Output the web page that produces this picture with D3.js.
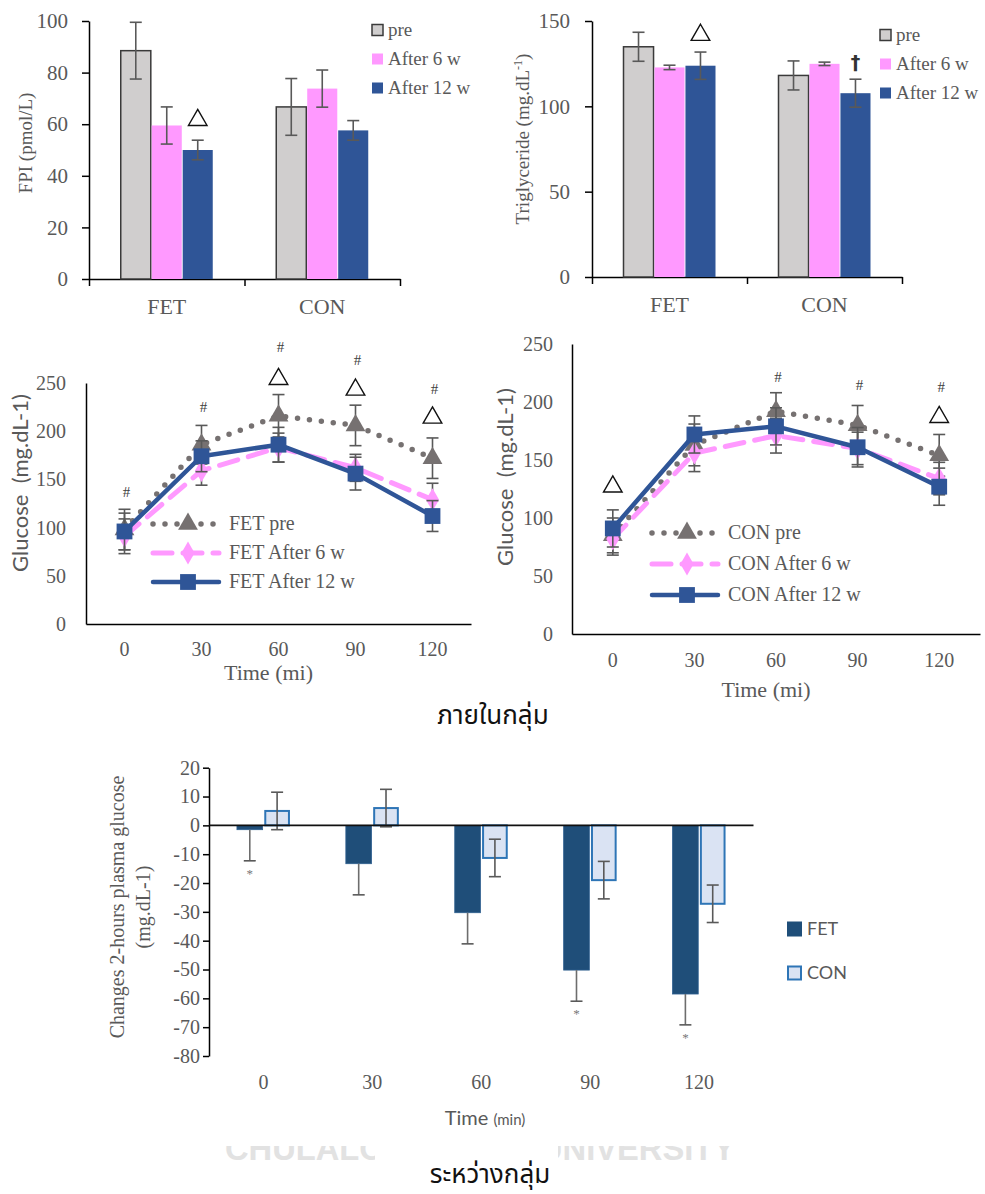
<!DOCTYPE html>
<html lang="th">
<head>
<meta charset="UTF-8">
<title>FPI, Triglyceride, OGTT</title>
<script src="https://d3js.org/d3.v7.min.js"></script>
<style>
  body { margin: 0; background: #fff; }
  svg text { fill: #595959; }
  .serif { font-family: "Liberation Serif", "DejaVu Serif", serif; }
  .sans { font-family: Lato, "Liberation Sans", sans-serif; }
  .thai { font-family: "Noto Sans Thai", "Noto Sans Thai UI", Loma, Garuda, "Tlwg Typist", sans-serif; fill: #111 !important; }
</style>
</head>
<body>
<svg id="fig" width="985" height="1194"></svg>
<script>
// ---- data ----
const groups = ["FET", "CON"];
const periods = ["pre", "After 6 w", "After 12 w"];
const periodColors = ["#d0cece", "#ff99ff", "#2f5597"];

// FPI (pmol/L), rows FET / CON
const fpiTicks = [0, 20, 40, 60, 80, 100];
const fpiMean = [[88.5, 59.5, 50.0], [66.7, 73.8, 57.6]];
const fpiErr = [[11, 7.2, 3.8], [11, 7.2, 3.8]];
// Triglyceride (mg/dL)
const tgTicks = [0, 50, 100, 150];
const tgMean = [[134.9, 122.8, 123.8], [118.1, 124.9, 107.7]];
const tgErr = [[8.5, 1.3, 8], [8.5, 1, 8.2]];

// OGTT glucose
const times = [0, 30, 60, 90, 120];
const glucoseTicks = [0, 50, 100, 150, 200, 250];
const fetPre = [98, 186, 216, 206, 172];
const fetPreErr = [21, 20, 22, 21, 21];
const fet6w = [91, 159, 183, 162, 129];
const fet6wErr = [18, 15, 15, 14, 17];
const fet12w = [96, 174, 186, 156, 112];
const fet12wErr = [19, 16, 18, 17, 16];
const conPre = [85, 163, 192, 180, 154];
const conPreErr = [15, 18, 16, 17, 18];
const con6w = [82, 156, 171, 160, 134];
const con6wErr = [14, 16, 15, 14, 14];
const con12w = [91, 172, 179, 161, 127];
const con12wErr = [16, 16, 16, 17, 16];
// significance marks [time, glucose level, symbol]
const fetMarks = [[0, 137, "#"], [30, 225, "#"], [60, 288, "#"], [60, 254, "tri"], [90, 274, "#"], [90, 243, "tri"], [120, 244, "#"], [120, 214, "tri"]];
const conMarks = [[0, 127, "tri"], [60, 222, "#"], [90, 215, "#"], [120, 213, "#"], [120, 187, "tri"]];

// change in 2-h plasma glucose
const deltaTicks = [20, 10, 0, -10, -20, -30, -40, -50, -60, -70, -80];
const deltaFET = [-1.5, -13.3, -30.3, -50.2, -58.5];
const deltaFETErr = [10.8, 10.8, 10.8, 10.8, 10.7];
const deltaCON = [5, 6, -11.3, -19, -27.2];
const deltaCONErr = [6.5, 6.5, 6.5, 6.5, 6.5];
const deltaStars = [0, 90, 120];

const svg = d3.select("#fig");

function styleAxis(ax, size) {
  ax.attr("font-family", null).attr("font-size", null);
  ax.selectAll("text").attr("class", "serif").attr("font-size", size);
  ax.selectAll("path, line").attr("stroke", "#000").attr("stroke-width", 1.5);
}

function errBar(g, x, yTop, yBot, cap, color) {
  g.append("line").attr("x1", x).attr("x2", x).attr("y1", yTop).attr("y2", yBot)
    .attr("stroke", color).attr("stroke-width", 1.6);
  [yTop, yBot].forEach(yy => {
    g.append("line").attr("x1", x - cap / 2).attr("x2", x + cap / 2).attr("y1", yy).attr("y2", yy)
      .attr("stroke", color).attr("stroke-width", 1.6);
  });
}

function hollowTriangle(g, x, y) {
  g.append("path").attr("d", d3.symbol(d3.symbolTriangle, 150)())
    .attr("transform", `translate(${x},${y})`)
    .attr("fill", "none").attr("stroke", "#111").attr("stroke-width", 1.4);
}

// ---- grouped bar charts (top row) ----
function barChart(cfg) {
  const g = svg.append("g");
  const x = d3.scaleBand().domain(groups).range([cfg.x0, cfg.x1]);
  const inner = d3.scaleBand().domain(periods).range([0, 92]).paddingInner(0.03);
  const off = (x.bandwidth() - 92) / 2;
  const y = d3.scaleLinear().domain([0, cfg.max]).range([cfg.y0, cfg.yTop]);

  g.append("g").attr("transform", `translate(${cfg.x0},0)`)
    .call(d3.axisLeft(y).tickValues(cfg.ticks).tickFormat(d => String(d)).tickSize(7).tickPadding(cfg.pad).tickSizeOuter(0))
    .call(ax => styleAxis(ax, 21));

  const xl = d3.scaleLinear().domain([0, 2]).range([cfg.x0, cfg.x1]);
  g.append("g").attr("transform", `translate(0,${cfg.y0})`)
    .call(d3.axisBottom(xl).tickValues([0, 1, 2]).tickFormat("").tickSize(7).tickSizeOuter(0))
    .call(ax => styleAxis(ax, 21));

  g.selectAll(".cat").data(groups).join("text")
    .attr("class", "serif").attr("x", d => x(d) + x.bandwidth() / 2).attr("y", cfg.y0 + 35)
    .attr("text-anchor", "middle").attr("font-size", 22).text(d => d);

  groups.forEach((grp, gi) => {
    periods.forEach((p, pi) => {
      const bx = x(grp) + off + inner(p);
      const v = cfg.mean[gi][pi];
      g.append("rect").attr("x", bx).attr("y", y(v)).attr("width", inner.bandwidth())
        .attr("height", y(0) - y(v)).attr("fill", periodColors[pi])
        .attr("stroke", pi === 0 ? "#3a3a3a" : "none").attr("stroke-width", 1.5);
    });
    periods.forEach((p, pi) => {
      const cx = x(grp) + off + inner(p) + inner.bandwidth() / 2;
      const v = cfg.mean[gi][pi], e = cfg.err[gi][pi];
      errBar(g, cx, y(v + e), y(v - e), 12, "#595959");
    });
  });

  cfg.marks.forEach(m => {
    const cx = x(m[0]) + off + inner(m[1]) + inner.bandwidth() / 2;
    if (m[3] === "tri") hollowTriangle(g, cx, y(m[2]));
    else g.append("text").attr("x", cx).attr("y", y(m[2])).attr("dy", "0.35em")
      .attr("text-anchor", "middle").attr("font-family", "DejaVu Sans").attr("font-weight", "bold")
      .attr("font-size", 19).style("fill", "#333").text(m[3]);
  });

  const t = g.append("text").attr("class", "serif").attr("font-size", 19)
    .attr("transform", `translate(${cfg.tx},${cfg.ty}) rotate(-90)`).attr("text-anchor", "middle")
    .attr("dy", "0.35em");
  t.append("tspan").text(cfg.title);
  if (cfg.sup) {
    t.append("tspan").attr("font-size", 12).attr("baseline-shift", "super").text(cfg.sup);
    t.append("tspan").text(")");
  }

  periods.forEach((p, i) => {
    const ly = cfg.ly + i * 29;
    g.append("rect").attr("x", cfg.lx).attr("y", ly - 5.5).attr("width", 11).attr("height", 11)
      .attr("fill", periodColors[i]).attr("stroke", i === 0 ? "#3a3a3a" : "none").attr("stroke-width", 1.5);
    g.append("text").attr("class", "serif").attr("x", cfg.lx + 16).attr("y", ly).attr("dy", "0.32em")
      .attr("font-size", 19).text(p);
  });
}

barChart({ x0: 89, x1: 400, y0: 279, yTop: 21, max: 100, ticks: fpiTicks, pad: 14,
  mean: fpiMean, err: fpiErr, marks: [["FET", "After 12 w", 61.6, "tri"]],
  title: "FPI (pmol/L)", tx: 25, ty: 143, lx: 372, ly: 30 });
barChart({ x0: 592, x1: 902, y0: 277, yTop: 21, max: 150, ticks: tgTicks, pad: 15,
  mean: tgMean, err: tgErr, marks: [["FET", "After 12 w", 141.8, "tri"], ["CON", "After 12 w", 125.5, "†"]],
  title: "Triglyceride (mg.dL", sup: "-1", tx: 522, ty: 139, lx: 880, ly: 35 });

// ---- OGTT line charts (middle row) ----
function lineChart(cfg) {
  const g = svg.append("g");
  const x = d3.scaleBand().domain(times).range([cfg.x0, cfg.x1]);
  const cx = t => x(t) + x.bandwidth() / 2;
  const y = d3.scaleLinear().domain([0, 250]).range([cfg.y0, cfg.yTop]);

  g.append("g").attr("transform", `translate(${cfg.x0},0)`)
    .call(d3.axisLeft(y).tickValues(glucoseTicks).tickFormat(d => String(d)).tickSize(0).tickPadding(cfg.pad))
    .call(ax => styleAxis(ax, 20));
  g.append("g").attr("transform", `translate(0,${cfg.y0})`)
    .call(d3.axisBottom(x).tickSize(0).tickPadding(cfg.xpad))
    .call(ax => styleAxis(ax, 20));

  const series = [
    { name: cfg.grp + " pre", v: cfg.data[0], e: cfg.errs[0], color: "#767171", w: 5.5, dash: "0,12", sym: d3.symbolTriangle, size: 170 },
    { name: cfg.grp + " After 6 w", v: cfg.data[1], e: cfg.errs[1], color: "#ff99ff", w: 5, dash: "19,11", sym: d3.symbolDiamond, size: 150 },
    { name: cfg.grp + " After 12 w", v: cfg.data[2], e: cfg.errs[2], color: "#2f5597", w: 4.5, dash: null, sym: d3.symbolSquare, size: 250 }
  ];
  const line = d3.line().x((d, i) => cx(times[i])).y(d => y(d));

  series.forEach(s => {
    g.append("path").datum(s.v).attr("d", line).attr("fill", "none")
      .attr("stroke", s.color).attr("stroke-width", s.w).attr("stroke-linecap", "round")
      .attr("stroke-linejoin", "round").attr("stroke-dasharray", s.dash);
    s.v.forEach((v, i) => errBar(g, cx(times[i]), y(v + s.e[i]), y(v - s.e[i]), 12, "#595959"));
    g.selectAll(null).data(s.v).join("path")
      .attr("d", d3.symbol(s.sym, s.size)())
      .attr("transform", (d, i) => `translate(${cx(times[i])},${y(d)})`)
      .attr("fill", s.color);
  });

  cfg.marks.forEach(m => {
    if (m[2] === "tri") hollowTriangle(g, cx(m[0]), y(m[1]));
    else g.append("text").attr("class", "serif").attr("x", cx(m[0]) + 2).attr("y", y(m[1]))
      .attr("dy", "0.35em").attr("text-anchor", "middle").attr("font-size", 15).style("fill", "#404040").text(m[2]);
  });

  series.forEach((s, i) => {
    const ly = cfg.ly + i * cfg.lstep;
    g.append("line").attr("x1", cfg.lx).attr("x2", cfg.lx + 66).attr("y1", ly).attr("y2", ly)
      .attr("stroke", s.color).attr("stroke-width", s.w).attr("stroke-linecap", "round")
      .attr("stroke-dasharray", s.dash);
    g.append("path").attr("d", d3.symbol(s.sym, s.size)())
      .attr("transform", `translate(${cfg.lx + 35},${ly})`).attr("fill", s.color);
    g.append("text").attr("class", "serif").attr("x", cfg.lx + 76).attr("y", ly).attr("dy", "0.32em")
      .attr("font-size", 20).text(s.name);
  });

  g.append("text").attr("class", "serif").attr("x", (cfg.x0 + cfg.x1) / 2 - 10).attr("y", cfg.ty)
    .attr("text-anchor", "middle").attr("font-size", 22).text("Time (mi)");
  g.append("text").attr("class", "sans").style("white-space", "pre")
    .attr("transform", `translate(${cfg.gx},${cfg.gy}) rotate(-90)`).attr("text-anchor", "middle")
    .attr("dy", "0.35em").attr("font-size", 22).text("Glucose  (mg.dL-1)");
}

lineChart({ grp: "FET", x0: 86, x1: 471, y0: 624, yTop: 383, pad: 20, xpad: 18,
  data: [fetPre, fet6w, fet12w], errs: [fetPreErr, fet6wErr, fet12wErr], marks: fetMarks,
  lx: 153, ly: 524, lstep: 29, ty: 680, gx: 20, gy: 483 });
lineChart({ grp: "CON", x0: 572, x1: 980, y0: 634, yTop: 344, pad: 19, xpad: 19,
  data: [conPre, con6w, con12w], errs: [conPreErr, con6wErr, con12wErr], marks: conMarks,
  lx: 652, ly: 533, lstep: 31, ty: 697, gx: 505, gy: 477 });

svg.append("text").attr("class", "thai").attr("x", 493).attr("y", 724)
  .attr("text-anchor", "middle").attr("font-size", 26).text("ภายในกลุ่ม");

// ---- change in glucose (bottom) ----
(function () {
  const g = svg.append("g");
  const x0 = 209, x1 = 753.5;
  const x = d3.scaleBand().domain(times).range([x0, x1]);
  const sub = d3.scaleBand().domain(["FET", "CON"]).range([0, 53]).paddingInner(0.06);
  const off = (x.bandwidth() - 53) / 2;
  const y = d3.scaleLinear().domain([-80, 20]).range([1056, 767.7]);

  g.append("g").attr("transform", `translate(${x0},0)`)
    .call(d3.axisLeft(y).tickValues(deltaTicks).tickFormat(d => String(d)).tickSize(6).tickPadding(3).tickSizeOuter(0))
    .call(ax => styleAxis(ax, 20));

  times.forEach((t, i) => {
    const fx = x(t) + off + sub("FET"), ccx = x(t) + off + sub("CON"), bw = sub.bandwidth();
    const f = deltaFET[i], c = deltaCON[i];
    g.append("rect").attr("x", fx).attr("width", bw).attr("y", y(Math.max(0, f)))
      .attr("height", Math.abs(y(f) - y(0))).attr("fill", "#1f4e79").attr("stroke", "#2e5f8f").attr("stroke-width", 0.8);
    g.append("rect").attr("x", ccx + 1).attr("width", bw - 2).attr("y", y(Math.max(0, c)))
      .attr("height", Math.abs(y(c) - y(0))).attr("fill", "#dae3f3").attr("stroke", "#2e75b6").attr("stroke-width", 2);
    // FET error bars only in the minus direction
    const fe = fx + bw / 2;
    g.append("line").attr("x1", fe).attr("x2", fe).attr("y1", y(f)).attr("y2", y(f - deltaFETErr[i]))
      .attr("stroke", "#6d6d6d").attr("stroke-width", 1.6);
    g.append("line").attr("x1", fe - 6).attr("x2", fe + 6).attr("y1", y(f - deltaFETErr[i])).attr("y2", y(f - deltaFETErr[i]))
      .attr("stroke", "#595959").attr("stroke-width", 1.6);
    errBar(g, ccx + bw / 2, y(c + deltaCONErr[i]), y(c - deltaCONErr[i]), 12, "#595959");
    if (deltaStars.includes(t)) {
      g.append("text").attr("class", "serif").attr("x", fe).attr("y", y(f - deltaFETErr[i]) + 17)
        .attr("text-anchor", "middle").attr("font-size", 13).style("fill", "#777").text("*");
    }
  });

  g.append("line").attr("x1", x0).attr("x2", x1).attr("y1", y(0)).attr("y2", y(0))
    .attr("stroke", "#111").attr("stroke-width", 1.8);

  g.selectAll(".xl").data(times).join("text").attr("class", "serif")
    .attr("x", d => x(d) + x.bandwidth() / 2).attr("y", 1089).attr("text-anchor", "middle")
    .attr("font-size", 20).text(d => d);

  const t = g.append("text").attr("class", "serif").attr("font-size", 20).attr("text-anchor", "middle")
    .attr("transform", "translate(117,907) rotate(-90)");
  t.append("tspan").attr("x", 0).attr("dy", "0.35em").text("Changes 2-hours plasma glucose");
  t.append("tspan").attr("x", 0).attr("dy", "1.3em").text("(mg.dL-1)");

  const tt = g.append("text").attr("class", "sans").attr("x", 485).attr("y", 1125).attr("text-anchor", "middle");
  tt.append("tspan").attr("font-size", 20).text("Time ");
  tt.append("tspan").attr("font-size", 15).text("(min)");

  const leg = [["FET", "#1f4e79", "#1f4e79", 929], ["CON", "#dae3f3", "#2e75b6", 973]];
  leg.forEach(l => {
    g.append("rect").attr("x", 788).attr("y", l[3] - 6.5).attr("width", 13).attr("height", 13)
      .attr("fill", l[1]).attr("stroke", l[2]).attr("stroke-width", 2);
    g.append("text").attr("class", "sans").attr("x", 807).attr("y", l[3]).attr("dy", "0.36em")
      .attr("font-size", 18).text(l[0]);
  });
})();

// faint watermark, only its lower edge shows
const defs = svg.append("defs");
const clip = defs.append("clipPath").attr("id", "wm");
clip.append("rect").attr("x", 215).attr("y", 1146).attr("width", 160).attr("height", 14);
clip.append("rect").attr("x", 558).attr("y", 1146).attr("width", 185).attr("height", 14);
svg.append("g").attr("clip-path", "url(#wm)").append("text").attr("x", 225).attr("y", 1160)
  .attr("textLength", 510).attr("lengthAdjust", "spacingAndGlyphs")
  .attr("font-family", "Liberation Sans, sans-serif").attr("font-weight", "bold").attr("font-size", 34)
  .style("fill", "#e2e2e2").text("CHULALONGKORN UNIVERSITY");

svg.append("text").attr("class", "thai").attr("x", 490).attr("y", 1183)
  .attr("text-anchor", "middle").attr("font-size", 26).text("ระหว่างกลุ่ม");
</script>
</body>
</html>
